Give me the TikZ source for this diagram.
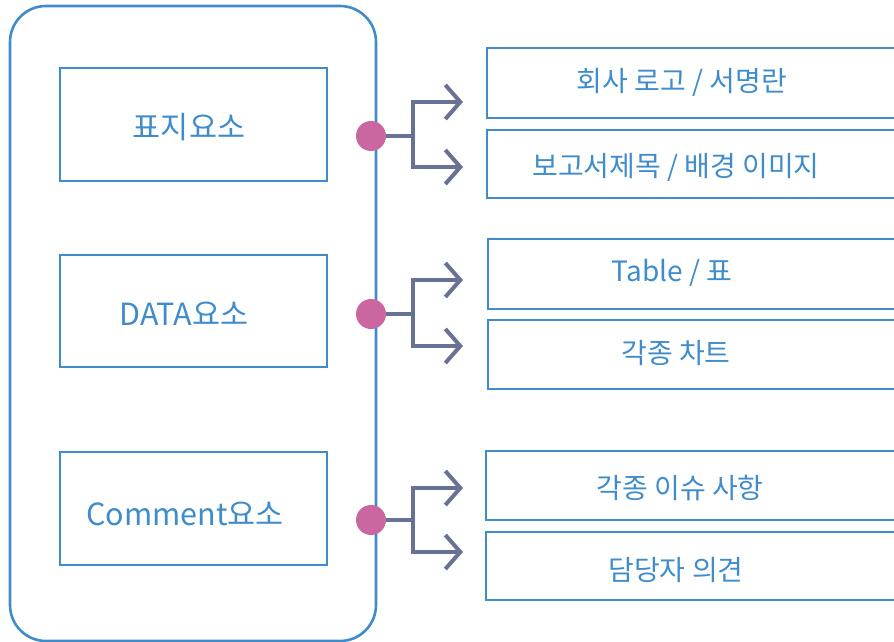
\documentclass[tikz,border=0pt]{standalone}
\usepackage{fontspec}
\newfontfamily\kr{Noto Sans CJK KR}
\usetikzlibrary{arrows.meta}
\definecolor{bblue}{RGB}{64,140,202}
\definecolor{conncol}{RGB}{104,114,148}
\definecolor{dotcol}{RGB}{202,102,160}
\tikzset{
  box/.style={draw=bblue,line width=2.6pt,rectangle,inner sep=0pt},
  lbl/.style={text=bblue,font=\kr\fontsize{28}{31}\selectfont,inner sep=0pt},
  biglbl/.style={text=bblue,font=\kr\fontsize{30.5}{33}\selectfont,inner sep=0pt},
  dotn/.style={circle,fill=dotcol,minimum size=30pt,inner sep=0pt},
  conn/.style={draw=conncol,line width=4pt,line join=miter},
  arr/.style={-{Straight Barb[length=15pt,width=34pt,line width=4pt]}}
}
\begin{document}
\begin{tikzpicture}[x=1pt,y=-1pt]
\useasboundingbox (0,0) rectangle (894,642);
\clip (0,0) rectangle (894,642);
% outer frame
\draw[draw=bblue,line width=2.6pt,rounded corners=36pt] (10,6) rectangle (376,641);
% left boxes
\draw[box] (60,68) rectangle (327,181);
\draw[box] (60,255) rectangle (327,367);
\draw[box] (60,452) rectangle (327,565);
\node[biglbl] (l1) at (189,127) {표지요소};
\node[biglbl] (l2) at (184,314) {DATA요소};
\node[biglbl] (l3) at (185,514) {Comment요소};
% right boxes
\draw[box] (487,48) rectangle (900,118);
\draw[box] (487,130) rectangle (900,198);
\draw[box] (488,239) rectangle (900,309);
\draw[box] (488,320) rectangle (900,389);
\draw[box] (486,451) rectangle (900,520);
\draw[box] (486,532) rectangle (900,600);
\node[lbl] (r1) at (682,82) {회사 로고 / 서명란};
\node[lbl] (r2) at (676,167) {보고서제목 / 배경 이미지};
\node[lbl] (r3) at (672,273) {Table / 표};
\node[lbl] (r4) at (676,353) {각종 차트};
\node[lbl] (r5) at (680,488) {각종 이슈 사항};
\node[lbl] (r6) at (676,570) {담당자 의견};
% junctions and arrow ends
\coordinate (j1) at (413,136);
\coordinate (j2) at (413,314);
\coordinate (j3) at (413,520);
\coordinate (t1a) at (463,102);
\coordinate (t1b) at (463,167);
\coordinate (t2a) at (463,280);
\coordinate (t2b) at (463,346);
\coordinate (t3a) at (463,488);
\coordinate (t3b) at (463,552);
\draw[conn] (371,136) -- (j1);
\draw[conn] (371,314) -- (j2);
\draw[conn] (371,520) -- (j3);
\draw[conn,arr] (j1) |- (t1a);
\draw[conn,arr] (j1) |- (t1b);
\draw[conn,arr] (j2) |- (t2a);
\draw[conn,arr] (j2) |- (t2b);
\draw[conn,arr] (j3) |- (t3a);
\draw[conn,arr] (j3) |- (t3b);
% dots
\node[dotn] (d1) at (371,136) {};
\node[dotn] (d2) at (371,314) {};
\node[dotn] (d3) at (371,520) {};
\end{tikzpicture}
\end{document}
